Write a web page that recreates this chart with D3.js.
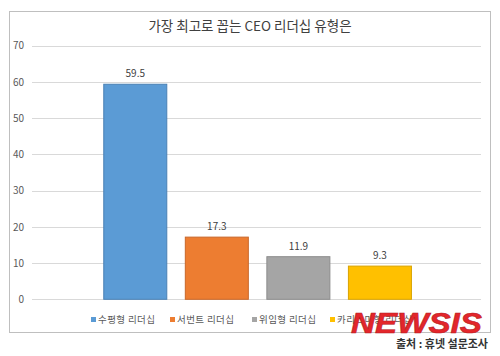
<!DOCTYPE html>
<html><head><meta charset="utf-8">
<script src="https://cdn.jsdelivr.net/npm/d3@7"></script>
<style>html,body{margin:0;padding:0;background:#fff;}svg{display:block;}</style>
</head><body>
<svg id="c" width="500" height="356"></svg>
<script>
const title = "가장 최고로 꼽는 CEO 리더십 유형은";
const categories = ["수평형 리더십", "서번트 리더십", "위임형 리더십", "카리스마형 리더십"];
const values = [59.5, 17.3, 11.9, 9.3];
const colors = ["#5b9bd5", "#ed7d31", "#a5a5a5", "#ffc000"];
const strokes = ["#4a80b4", "#c9672a", "#8c8c8c", "#d9a300"];
const yTicks = [0, 10, 20, 30, 40, 50, 60, 70];
const source = "출처 : 휴넷 설문조사";
const watermark = "NEWSIS";

const svg = d3.select("#c");
const font = "'Noto Sans CJK KR', 'Noto Sans', sans-serif";

svg.append("rect").attr("x", 9.5).attr("y", 11.5).attr("width", 481).attr("height", 321)
  .attr("fill", "#fff").attr("stroke", "#bfbfbf").attr("stroke-width", 1);

svg.append("text").attr("x", 250).attr("y", 31).attr("text-anchor", "middle")
  .attr("font-family", font).attr("font-size", 13.5).attr("fill", "#404040").text(title);

const y = d3.scaleLinear().domain([0, 70]).range([299.3, 45.7]);
const x = d3.scaleBand().domain(categories).range([94.5, 420.7]).paddingInner(0.215).paddingOuter(0.1075);

const gridX0 = 32, gridX1 = 481;
svg.append("g").selectAll("line").data(yTicks).join("line")
  .attr("x1", gridX0).attr("x2", gridX1)
  .attr("y1", d => Math.round(y(d)) + 0.5).attr("y2", d => Math.round(y(d)) + 0.5)
  .attr("stroke", "#d9d9d9").attr("stroke-width", 1);

const yAxis = d3.axisLeft(y).tickValues(yTicks).tickSize(0).tickPadding(0);
const ga = svg.append("g").attr("transform", "translate(24,0)").call(yAxis);
ga.select(".domain").remove();
ga.selectAll("text").attr("font-family", font).attr("font-size", 10).attr("fill", "#595959");

svg.append("g").selectAll("rect").data(categories).join("rect")
  .attr("x", d => x(d) + 0.5).attr("width", x.bandwidth() - 1)
  .attr("y", (d, i) => y(values[i]) + 0.5).attr("height", (d, i) => y(0) - y(values[i]) - 0.5)
  .attr("fill", (d, i) => colors[i]).attr("stroke", (d, i) => strokes[i]).attr("stroke-width", 1);

svg.append("g").selectAll("text").data(categories).join("text")
  .attr("x", d => x(d) + x.bandwidth() / 2).attr("y", (d, i) => y(values[i]) - 6.5)
  .attr("text-anchor", "middle").attr("font-family", font).attr("font-size", 10).attr("fill", "#404040")
  .text((d, i) => values[i].toFixed(1));

// legend
const legendX = [91, 170, 252, 330];
const lg = svg.append("g").selectAll("g").data(categories).join("g")
  .attr("transform", (d, i) => `translate(${legendX[i]},319.5)`);
lg.append("rect").attr("x", 0).attr("y", -2.5).attr("width", 5).attr("height", 5)
  .attr("fill", (d, i) => colors[i]);
lg.append("text").attr("x", 7).attr("y", 3.5).attr("font-family", font).attr("font-size", 9.5)
  .attr("fill", "#595959").attr("letter-spacing", 0.4).text(d => d);

// watermark
svg.append("text").attr("x", 351).attr("y", 333).attr("font-family", "'Liberation Sans', Arial, sans-serif")
  .attr("font-weight", "bold").attr("font-style", "italic").attr("font-size", 30)
  .attr("textLength", 131).attr("lengthAdjust", "spacingAndGlyphs")
  .attr("fill", "#e3262b").attr("stroke", "#b51a1f").attr("stroke-width", 0.6).text(watermark);

svg.append("text").attr("x", 488).attr("y", 347.5).attr("text-anchor", "end")
  .attr("font-family", font).attr("font-size", 11).attr("font-weight", "bold").attr("fill", "#333")
  .text(source);
</script>
</body></html>
